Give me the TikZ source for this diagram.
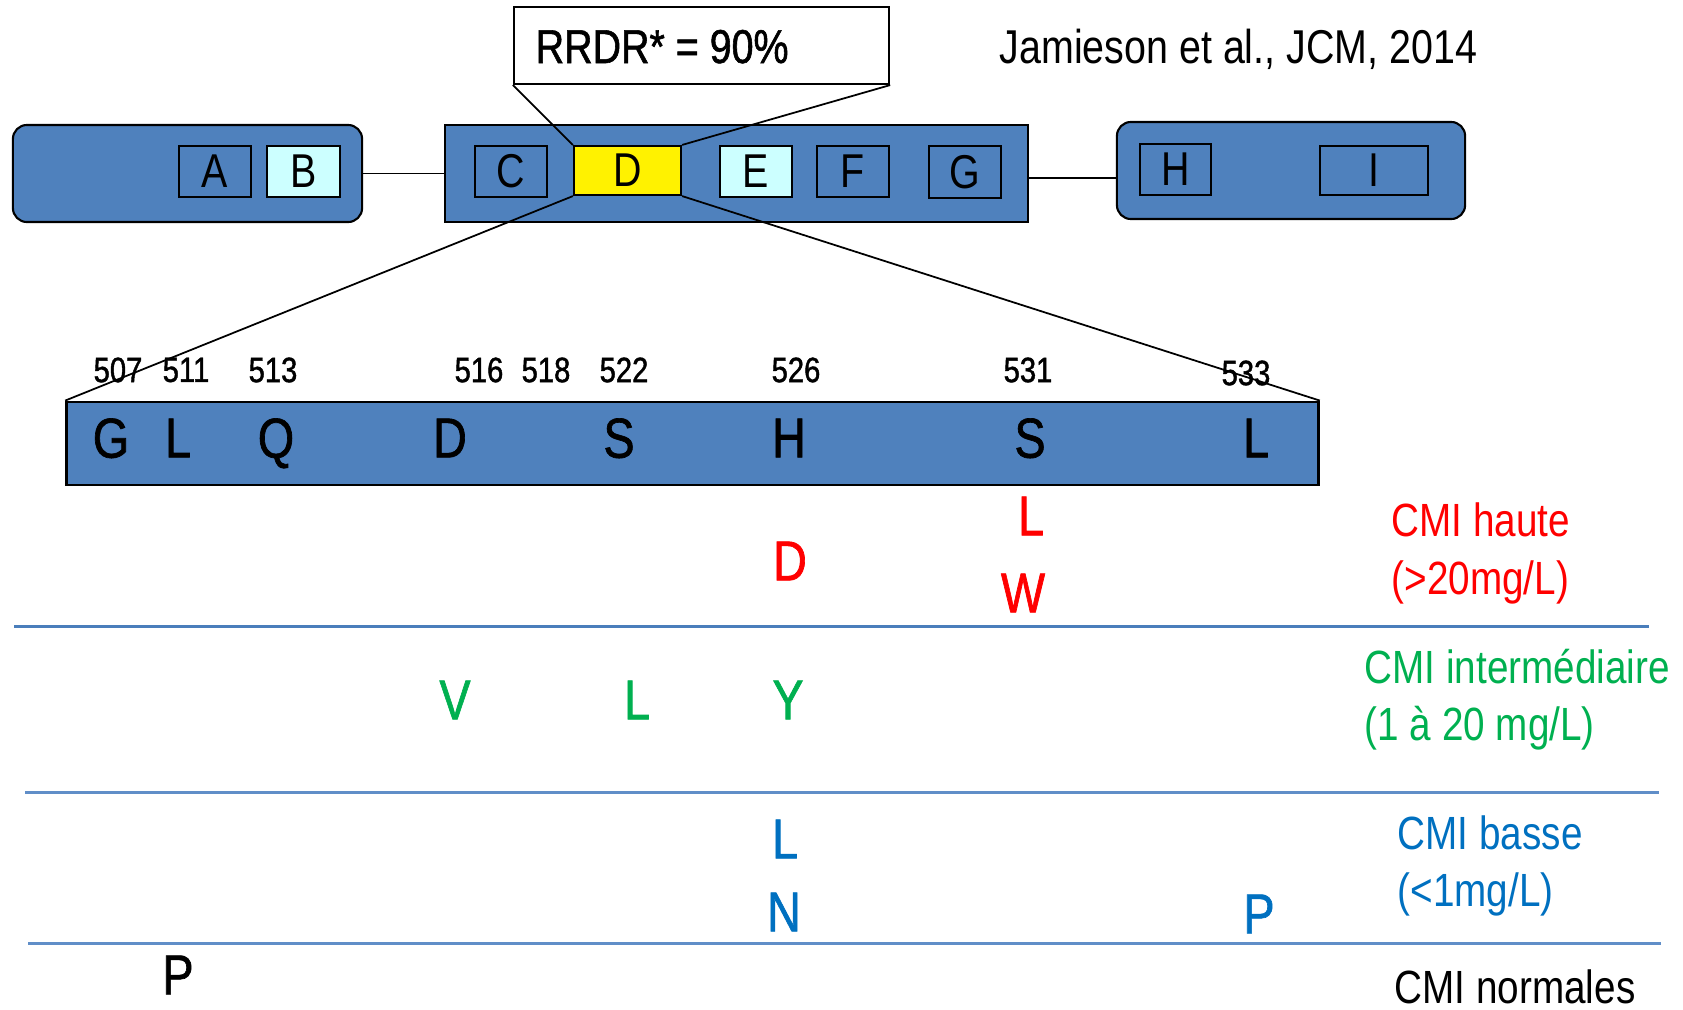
\documentclass[tikz,border=0pt]{standalone}
\usepackage{fontspec}
\setmainfont[FakeStretch=0.83]{Liberation Sans}
\newfontfamily\heavyfont[FakeStretch=0.83,FakeBold=1.2]{Liberation Sans}
\definecolor{barblue}{RGB}{79,129,189}
\definecolor{cyanbox}{RGB}{204,255,255}
\definecolor{hired}{RGB}{255,0,0}
\definecolor{midgreen}{RGB}{0,176,80}
\definecolor{lowblue}{RGB}{0,112,192}
\definecolor{sepblue}{RGB}{74,126,187}
\definecolor{sepblueb}{RGB}{96,142,200}
\newcommand\fsbox{\fontsize{13.5pt}{16pt}\selectfont}
\newcommand\fsletter{\heavyfont\fontsize{16pt}{19pt}\selectfont}
\newcommand\fsnum{\heavyfont\fontsize{10pt}{12pt}\selectfont}
\newcommand\fslabel{\fontsize{13.25pt}{16pt}\selectfont}
\newcommand\fsref{\fontsize{13.5pt}{16pt}\selectfont}
\newcommand\fsrrdr{\heavyfont\fontsize{13.5pt}{16pt}\selectfont}
\begin{document}
\begin{tikzpicture}[x=0.01cm,y=-0.01cm,
  bigbox/.style={draw=black, line width=0.6pt, fill=barblue, inner sep=0pt},
  roundbox/.style={bigbox, rounded corners=0.14cm},
  sbox/.style={draw=black, line width=0.6pt, inner sep=0pt, font=\fsbox, minimum height=0.51cm},
  conn/.style={draw=black, line width=0.5pt},
  lett/.style={inner sep=0pt, font=\fsletter, text depth=0pt},
  num/.style={inner sep=0pt, font=\fsnum},
  lab/.style={inner sep=0pt, font=\fslabel, anchor=base west},
  sepline/.style={line width=0.85pt}]
\useasboundingbox (0,0) rectangle (1683,1009);
% top gene boxes
\node[roundbox, minimum width=3.49cm, minimum height=0.97cm] (lbox) at (187.5,173.5) {};
\node[bigbox, minimum width=5.83cm, minimum height=0.97cm] (mbox) at (736.5,173.5) {};
\node[roundbox, minimum width=3.48cm, minimum height=0.97cm] (rgt) at (1291,170.5) {};
\node[sbox, fill=barblue, minimum width=0.72cm] (A) at (215,171.5) {A};
\node[sbox, fill=cyanbox, minimum width=0.73cm] (B) at (303.5,171.5) {B};
\node[sbox, fill=barblue, minimum width=0.72cm] (C) at (511,171.5) {C};
\node[sbox, fill=yellow, minimum width=1.07cm, minimum height=0.49cm] (D) at (627.5,170.5) {D};
\node[sbox, fill=cyanbox, minimum width=0.72cm] (E) at (756,171.5) {E};
\node[sbox, fill=barblue, minimum width=0.72cm] (F) at (853,171.5) {F};
\node[sbox, fill=barblue, minimum width=0.72cm, minimum height=0.52cm] (G) at (965,172) {G};
\node[sbox, fill=barblue, minimum width=0.71cm] (H) at (1175.5,169.5) {H};
\node[sbox, fill=barblue, minimum width=1.08cm, minimum height=0.49cm] (I) at (1374,170.5) {I};
% RRDR box
\node[draw=black, line width=0.6pt, fill=white, minimum width=3.75cm, minimum height=0.77cm, inner sep=0pt] (rrdr) at (701.5,45.5) {};
\node[inner sep=0pt, anchor=base west, font=\fsrrdr] (rrdrtxt) at (535,63) {RRDR* = 90\%};
\node[inner sep=0pt, anchor=base west, font=\fsref] (ref) at (999,63) {Jamieson et al., JCM, 2014};
% RRDR bar
\node[draw=black, line width=0.8pt, fill=barblue, minimum width=12.51cm, minimum height=0.83cm, inner sep=0pt] (bar) at (692.5,443.5) {};
\node[lett] (g507) at (111,438) {G};
\node[lett] (l511) at (178,438) {L};
\node[lett] (q513) at (276,438) {Q};
\node[lett] (d516) at (450,438) {D};
\node[lett] (s522) at (619,438) {S};
\node[lett] (h526) at (789,438) {H};
\node[lett] (s531) at (1030,438) {S};
\node[lett] (l533) at (1256,438) {L};
\node[num] (n507) at (118,370) {507};
\node[num] (n511) at (186,370) {511};
\node[num] (n513) at (273,370) {513};
\node[num] (n516) at (479,370) {516};
\node[num] (n518) at (546,370) {518};
\node[num] (n522) at (624,370) {522};
\node[num] (n526) at (796,370) {526};
\node[num] (n531) at (1028,370) {531};
\node[num] (n533) at (1246,373) {533};
% separator lines
\draw[sepline, sepblue] (14,626) -- (1649,626);
\draw[sepline, sepblueb] (25,792) -- (1659,792);
\draw[sepline, sepblueb] (28,943) -- (1661,943);
% mutations
\node[lett, text=hired] (m1) at (1031,516) {L};
\node[lett, text=hired] (m2) at (790,561) {D};
\node[lett, text=hired] (m3) at (1023,593) {W};
\node[lett, text=midgreen] (m4) at (455,700) {V};
\node[lett, text=midgreen] (m5) at (637,700) {L};
\node[lett, text=midgreen] (m6) at (788,700) {Y};
\node[lett, text=lowblue] (m7) at (785,839) {L};
\node[lett, text=lowblue] (m8) at (784,912) {N};
\node[lett, text=lowblue] (m9) at (1259,914) {P};
\node[lett, text=black] (m10) at (178,975) {P};
% category labels
\node[lab, text=hired] (l1a) at (1391,536) {CMI haute};
\node[lab, text=hired] (l1b) at (1391,594) {(>20mg/L)};
\node[lab, text=midgreen] (l2a) at (1364,683) {CMI intermédiaire};
\node[lab, text=midgreen] (l2b) at (1364,740) {(1 à 20 mg/L)};
\node[lab, text=lowblue] (l3a) at (1397,849) {CMI basse};
\node[lab, text=lowblue] (l3b) at (1397,906) {(<1mg/L)};
\node[lab, text=black] (l4a) at (1394,1003) {CMI normales};
% connectors
\coordinate (y178) at (0,178);
\draw[conn] (lbox.east) -- (mbox.west);
\draw[conn] (mbox.east |- y178) -- (rgt.west |- y178);
\draw[conn] (rrdr.south west) -- (D.north west);
\draw[conn] (rrdr.south east) -- (D.north east);
\draw[conn] (D.south west) -- (bar.north west);
\draw[conn] (D.south east) -- (bar.north east);
\end{tikzpicture}
\end{document}
